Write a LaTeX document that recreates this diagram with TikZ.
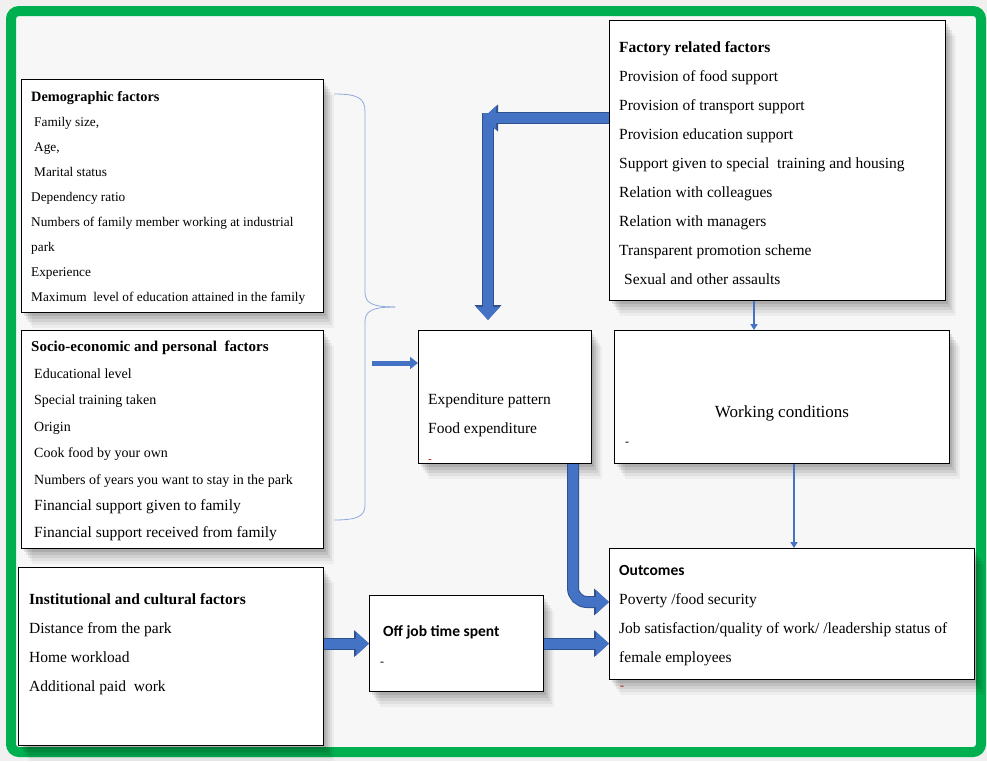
\documentclass[tikz,border=0pt]{standalone}
\usepackage{fontspec}
\setmainfont{Liberation Serif}
\newfontfamily\calibri{Carlito}
\usetikzlibrary{arrows.meta,shadows}

\definecolor{framegreen}{HTML}{00B050}
\definecolor{arrowblue}{HTML}{4472C4}
\definecolor{arrowdark}{HTML}{2F528F}
\definecolor{bracebl}{HTML}{8FAADC}
\definecolor{dashred}{HTML}{C00000}

\tikzset{
  boxshadow/.style={
    general shadow={fill=black, opacity=.09, shadow xshift=2pt, shadow yshift=-3pt},
    general shadow={fill=black, opacity=.08, shadow xshift=4pt, shadow yshift=-6pt},
    general shadow={fill=black, opacity=.07, shadow xshift=6pt, shadow yshift=-9pt},
    general shadow={fill=black, opacity=.05, shadow xshift=8pt, shadow yshift=-12pt},
    general shadow={fill=black, opacity=.04, shadow xshift=10pt, shadow yshift=-15pt}},
  factorbox/.style={draw=black, line width=1.2pt, fill=white, anchor=north west,
    inner sep=0pt, boxshadow},
  boxtext/.style={anchor=west, align=left, inner sep=0pt},
  blockarrow/.style={draw=arrowblue, line width=10pt, -{Triangle[width=23pt,length=13pt]},
    preaction={draw=arrowdark, line width=12pt, -{Triangle[width=26pt,length=15pt]}}},
  smallarrow/.style={draw=arrowblue, line width=5pt, -{Triangle[width=12pt,length=8pt]}},
  thinarrow/.style={draw=arrowblue, line width=2pt, -{Triangle[width=7pt,length=6pt]}},
}

\begin{document}
\begin{tikzpicture}[x=1pt,y=-1pt]
  \useasboundingbox (0,0) rectangle (987,761);
  \fill[white!94!black] (0,0) rectangle (987,761);
  \draw[framegreen, line width=10pt, rounded corners=8pt, fill=white!97!black] (11,11) rectangle (981,752);

  % boxes
  \node[factorbox, minimum width=302pt, minimum height=233pt] (demo) at (21,79) {};
  \node[factorbox, minimum width=302pt, minimum height=218pt] (socio) at (21,330) {};
  \node[factorbox, minimum width=305pt, minimum height=178pt] (inst) at (18,567) {};
  \node[factorbox, minimum width=336pt, minimum height=280pt] (fact) at (609,20) {};
  \node[factorbox, minimum width=173pt, minimum height=133pt] (expd) at (418,330) {};
  \node[factorbox, minimum width=335pt, minimum height=133pt] (work) at (614,330) {};
  \node[factorbox, minimum width=365pt, minimum height=131pt] (outc) at (609,548) {};
  \node[factorbox, minimum width=174pt, minimum height=96pt] (offj) at (369,595) {};

  % texts
  \node[boxtext, font=\fontsize{13.3}{25}\selectfont] (demotxt) at (31,198) {{\fontsize{14.3}{25}\selectfont\textbf{Demographic factors}}\\
    \hspace{3pt}Family size,\\ \hspace{3pt}Age,\\ \hspace{3pt}Marital status\\ Dependency ratio\\
    Numbers of family member working at industrial\\ park\\ Experience\\
    Maximum\ \ level of education attained in the family};
  \node[boxtext, font=\fontsize{14}{26.5}\selectfont] (sociotxt) at (31,441) {{\fontsize{15}{26.5}\selectfont\textbf{Socio-economic and personal\ \ factors}}\\
    \hspace{3pt}Educational level\\ \hspace{3pt}Special training taken\\ \hspace{3pt}Origin\\
    \hspace{3pt}Cook food by your own\\ \hspace{3pt}Numbers of years you want to stay in the park\\
    \hspace{3pt}{\fontsize{15.5}{28}\selectfont Financial support given to family}\\
    \hspace{3pt}{\fontsize{15.5}{28}\selectfont Financial support received from family}};
  \node[boxtext, font=\fontsize{15.5}{29}\selectfont] (insttxt) at (29,644) {\textbf{Institutional and cultural factors}\\
    Distance\ from the park\\ Home workload\\ Additional paid\ \ work};
  \node[boxtext, font=\fontsize{15.5}{29}\selectfont] (facttxt) at (619,163) {\textbf{Factory related factors}\\
    Provision of food support\\ Provision of transport support\\ Provision education support\\
    Support given to special\ \ training and housing\\ Relation with colleagues\\
    Relation with managers\\ Transparent promotion scheme\\ \hspace{5pt}Sexual and other assaults};
  \node[boxtext, font=\fontsize{15.5}{29}\selectfont] (expdtxt) at (428,428) {Expenditure pattern\\
    Food expenditure\\ \textcolor{dashred}{\fontsize{11}{11}\selectfont -}};
  \node[font=\fontsize{17}{20}\selectfont] (worktxt) at (782,413) {Working conditions};
  \node[font=\fontsize{12}{12}\selectfont] (workdash) at (627,444) {-};
  \node[boxtext, font=\fontsize{15.5}{29}\selectfont] (outctxt) at (619,616) {{\calibri\bfseries Outcomes}\\
    Poverty /food security\\ Job satisfaction/quality of work/ /leadership status of\\ female employees};
  \node[font=\fontsize{12}{12}\selectfont, text=dashred] (outcdash) at (622,688) {-};
  \node[boxtext, font=\fontsize{15.5}{29}\selectfont] (offjtxt) at (383,646) {{\calibri\bfseries Off job time spent}\\
    \hspace{-3pt}{\fontsize{12}{12}\selectfont -}};

  % brace
  \draw[bracebl, line width=0.8pt] (334,94) .. controls (358,94) and (365,98) .. (365,112) -- (365,292)
    .. controls (365,303) and (372,307) .. (395,307);
  \draw[bracebl, line width=0.8pt] (395,307) .. controls (372,307) and (365,311) .. (365,322) -- (365,505)
    .. controls (365,516) and (358,520) .. (334,520);

  % arrows
  \coordinate (fbend) at (488,118);
  \draw[blockarrow, shorten >=10pt] ([yshift=5pt]fbend) -- (fbend |- expd.north);
  \draw[blockarrow] (fbend -| fact.west) -- ([xshift=-5pt]fbend);
  \coordinate (ebend) at (573,602);
  \draw[blockarrow, rounded corners=14pt] (ebend |- expd.south) -- (ebend) -- (ebend -| outc.west);
  \coordinate (bracetail) at (372,363);
  \draw[smallarrow] (bracetail) -- (bracetail -| expd.west);
  \draw[blockarrow] (inst.east |- offj.west) -- (offj.west);
  \draw[blockarrow] (offj.east) -- (offj.east -| outc.west);
  \coordinate (fwc) at (754,0);
  \draw[thinarrow] (fwc |- fact.south) -- (fwc |- work.north);
  \coordinate (wco) at (794,0);
  \draw[thinarrow] (wco |- work.south) -- (wco |- outc.north);
\end{tikzpicture}
\end{document}
